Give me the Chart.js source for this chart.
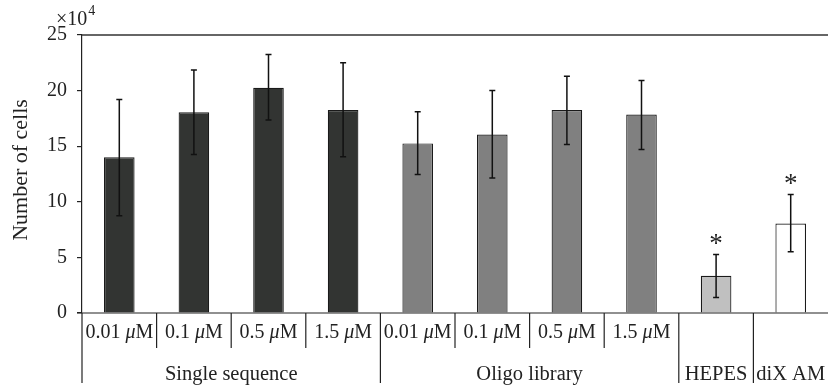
<!DOCTYPE html>
<html>
<head>
<meta charset="utf-8">
<script src="https://cdn.jsdelivr.net/npm/chart.js@4.4.1/dist/chart.umd.min.js"></script>
<style>
html,body{margin:0;padding:0;background:#fff;}
#wrap{width:828px;height:391px;}
</style>
</head>
<body>
<div id="wrap"><canvas id="c" width="828" height="391"></canvas></div>
<script>
// ---- data (values in units of 10^4 cells) ----
const categories = ['0.01 μM','0.1 μM','0.5 μM','1.5 μM','0.01 μM','0.1 μM','0.5 μM','1.5 μM','',''];
const groupLabels = ['Single sequence','Oligo library','HEPES','diX AM'];
const groupStart = [0,4,8,9];
const groupEnd   = [3,7,8,9];
const means   = [14.0, 18.05, 20.25, 18.25, 15.25, 16.05, 18.25, 17.85, 3.35, 8.05];
const errHigh = [19.2, 21.85, 23.25, 22.5, 18.1, 20.0, 21.3, 20.9, 5.25, 10.65];
const errLow  = [8.75, 14.25, 17.35, 14.05, 12.45, 12.15, 15.15, 14.7, 1.4, 5.5];
const significant = [false,false,false,false,false,false,false,false,true,true];
const yTicks = [0,5,10,15,20,25];
const barColors = ['#323432','#323432','#323432','#323432','#808080','#808080','#808080','#808080','#c0c0c0','#ffffff'];

const SERIF = '"Liberation Serif","DejaVu Serif",serif';

function drawMixed(ctx, text, cx, y, size){
  const parts = [];
  let buf = '';
  for (const ch of text){
    if (ch === 'μ'){ if (buf) parts.push([buf,false]); parts.push([ch,true]); buf=''; }
    else buf += ch;
  }
  if (buf) parts.push([buf,false]);
  let total = 0;
  const widths = parts.map(([t,it])=>{ ctx.font = (it?'italic ':'') + size + 'px ' + SERIF; const w = ctx.measureText(t).width; total += w; return w; });
  let x = cx - total/2;
  ctx.textAlign = 'left';
  parts.forEach(([t,it],i)=>{ ctx.font = (it?'italic ':'') + size + 'px ' + SERIF; ctx.fillText(t, x, y); x += widths[i]; });
}

const decor = {
  id:'decor',
  afterDatasetsDraw(chart){
    const ctx = chart.ctx, xs = chart.scales.x, ys = chart.scales.y, ca = chart.chartArea;
    ctx.save();
    // error bars
    ctx.strokeStyle = '#111'; ctx.lineWidth = 1.5;
    for (let i=0;i<means.length;i++){
      const x = xs.getPixelForValue(i);
      const yh = ys.getPixelForValue(errHigh[i]), yl = ys.getPixelForValue(errLow[i]);
      ctx.beginPath();
      ctx.moveTo(x, yh); ctx.lineTo(x, yl);
      ctx.moveTo(x-3, yh); ctx.lineTo(x+3, yh);
      ctx.moveTo(x-3, yl); ctx.lineTo(x+3, yl);
      ctx.stroke();
      if (significant[i]){
        ctx.fillStyle = '#222';
        ctx.font = '27px ' + SERIF;
        ctx.textAlign = 'center'; ctx.textBaseline = 'middle';
        ctx.fillText('*', x, yh - 10);
      }
    }
    // top frame line
    ctx.strokeStyle = '#333'; ctx.lineWidth = 1.5;
    ctx.beginPath(); ctx.moveTo(ca.left, ca.top); ctx.lineTo(ca.right, ca.top); ctx.stroke();
    // x axis line
    ctx.strokeStyle = '#222'; ctx.lineWidth = 1.2;
    ctx.beginPath(); ctx.moveTo(ca.left-5, ca.bottom); ctx.lineTo(ca.right, ca.bottom); ctx.stroke();
    // left axis extension + separators
    ctx.lineWidth = 1.2;
    ctx.beginPath(); ctx.moveTo(ca.left, ca.bottom); ctx.lineTo(ca.left, ca.bottom+70); ctx.stroke();
    for (let i=0;i<categories.length-1;i++){
      const x = (xs.getPixelForValue(i)+xs.getPixelForValue(i+1))/2;
      const long = groupEnd.includes(i);
      ctx.beginPath(); ctx.moveTo(x, ca.bottom); ctx.lineTo(x, ca.bottom + (long?70:35)); ctx.stroke();
    }
    // category labels
    ctx.fillStyle = '#222'; ctx.textBaseline = 'middle';
    categories.forEach((c,i)=>{ if (c) drawMixed(ctx, c, xs.getPixelForValue(i), ca.bottom+20, 20); });
    // group labels
    groupLabels.forEach((g,k)=>{
      const cx = (xs.getPixelForValue(groupStart[k]) + xs.getPixelForValue(groupEnd[k]))/2;
      drawMixed(ctx, g, cx, ca.bottom+62, 20.5);
    });
    // y title
    ctx.save();
    ctx.translate(21, 170);
    ctx.rotate(-Math.PI/2);
    ctx.font = '22px ' + SERIF; ctx.textAlign='center'; ctx.textBaseline='middle';
    ctx.fillText('Number of cells', 0, 0);
    ctx.restore();
    // x10^4
    ctx.textAlign = 'left'; ctx.textBaseline = 'alphabetic';
    ctx.font = '20px ' + SERIF;
    ctx.fillText('×10', 56, 25);
    const w = ctx.measureText('×10').width;
    ctx.font = '14px ' + SERIF;
    ctx.fillText('4', 56 + w + 1, 15);
    ctx.restore();
  }
};

new Chart(document.getElementById('c'), {
  type:'bar',
  data:{
    labels: categories,
    datasets:[{
      data: means,
      backgroundColor: barColors,
      borderColor: '#1a1a1a',
      borderWidth: 1.2,
      barPercentage: 0.41,
      categoryPercentage: 1.0
    }]
  },
  options:{
    responsive:false,
    devicePixelRatio:1,
    animation:false,
    layout:{padding:{top:35,right:0,left:0,bottom:0}},
    plugins:{legend:{display:false},tooltip:{enabled:false}},
    scales:{
      x:{
        ticks:{display:false},
        grid:{display:false},
        border:{display:false},
        afterFit(s){ s.height = 78; }
      },
      y:{
        min:0,max:25,
        afterBuildTicks(s){ s.ticks = yTicks.map(v=>({value:v})); },
        ticks:{font:{family:SERIF,size:20},color:'#222',padding:10},
        grid:{display:true,drawOnChartArea:false,drawTicks:true,tickLength:5,color:'#222',lineWidth:1.2},
        border:{display:true,color:'#222',width:1.2},
        afterFit(s){ s.width = 82; }
      }
    }
  },
  plugins:[decor]
});
</script>
</body>
</html>
